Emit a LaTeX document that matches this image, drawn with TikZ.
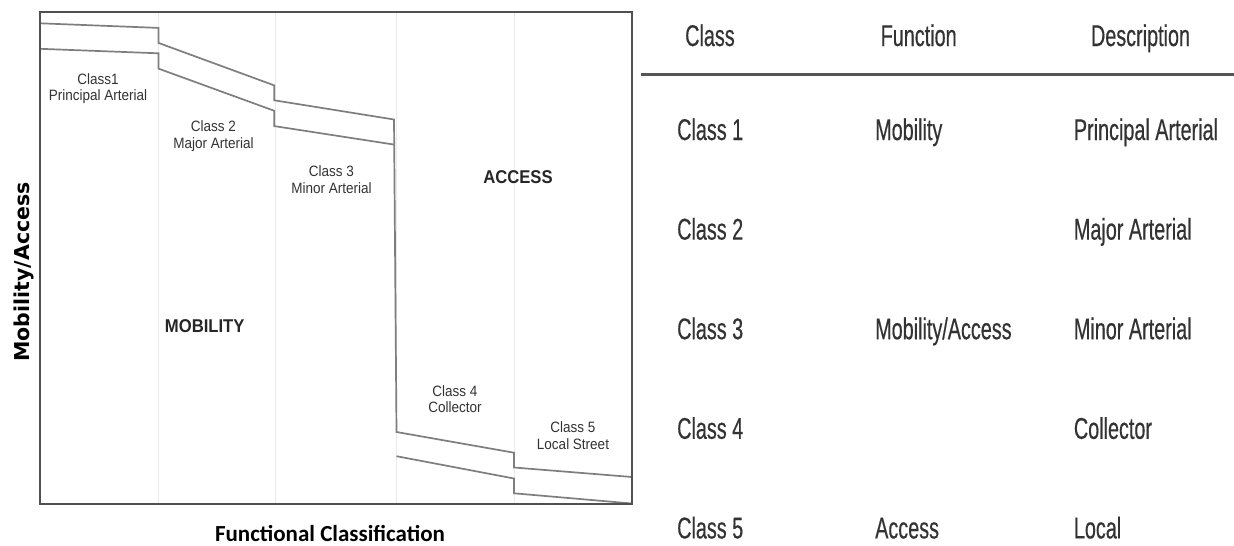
\documentclass[tikz,border=0pt]{standalone}
\usepackage{fontspec}
\newfontfamily\chartfont[FakeStretch=0.9]{Liberation Sans}
\newfontfamily\tabfont[FakeStretch=0.66,FakeBold=0.4]{Liberation Sans}
\newfontfamily\xaxisfont{Carlito}
\newfontfamily\yaxisfont{DejaVu Sans}
\definecolor{bandgray}{HTML}{7E7E7E}
\definecolor{boxgray}{HTML}{505050}
\definecolor{gridgray}{HTML}{EAEAEA}
\definecolor{textgray}{HTML}{333333}
\definecolor{rulegray}{HTML}{555555}
\begin{document}
\begin{tikzpicture}[x=1pt,y=-1pt,
  lbl/.style={anchor=base,inner sep=0pt,text=textgray,font=\chartfont\fontsize{15}{17}\selectfont},
  biglbl/.style={anchor=base,inner sep=0pt,text=black!85,font=\chartfont\bfseries\fontsize{18.5}{20}\selectfont},
  tabtxt/.style={anchor=base west,inner sep=0pt,text=textgray,font=\tabfont\fontsize{30}{32}\selectfont},
  band/.style={draw=bandgray,line width=1.7pt,line join=miter},
  gridline/.style={draw=gridgray,line width=0.8pt}]
\useasboundingbox (0,0) rectangle (1234,546);
\fill[white] (0,0) rectangle (1234,546);
% grid
\foreach \gx in {158.5,275.5,396.5,514}{\draw[gridline] (\gx,12) -- (\gx,503.5);}
% bands
\draw[band] (40,23.3) -- (158.4,27.9) -- (158.4,42.9) -- (274.3,85.4) -- (274.3,100.3) -- (394,119.5) -- (396.5,432) -- (514,452.7) -- (514,467.5) -- (632,477);
\draw[band] (40,48.8) -- (158.4,53.3) -- (158.4,68.6) -- (274.3,110.8) -- (274.3,126.1) -- (394.2,144.6);
\draw[band] (396.5,456.2) -- (514,478.5) -- (514,493.3) -- (632,503.5);
% frame
\draw[boxgray,line width=2pt] (40,12) rectangle (632,503.5);
% chart labels
\node[lbl] (c1a) at (98,84) {Class1};
\node[lbl] (c1b) at (98,100.7) {Principal Arterial};
\node[lbl] (c2a) at (213.5,131.7) {Class 2};
\node[lbl] (c2b) at (213.5,148.4) {Major Arterial};
\node[lbl] (c3a) at (331.5,176.5) {Class 3};
\node[lbl] (c3b) at (331.5,193.2) {Minor Arterial};
\node[lbl] (c4a) at (455,396) {Class 4};
\node[lbl] (c4b) at (455,412.7) {Collector};
\node[lbl] (c5a) at (573,432.7) {Class 5};
\node[lbl] (c5b) at (573,449.5) {Local Street};
\node[biglbl] (acc) at (518,183.3) {ACCESS};
\node[biglbl] (mob) at (204.7,332) {MOBILITY};
% axis titles
\node[anchor=base,inner sep=0pt,font=\xaxisfont\bfseries\fontsize{23}{25}\selectfont] (xt) at (330,541) {Functional Classification};
\node[anchor=base,inner sep=0pt,rotate=90,font=\yaxisfont\bfseries\fontsize{20.5}{22}\selectfont] (yt) at (29,272) {Mobility/Access};
% table
\node[tabtxt] (h1) at (685,46) {Class};
\node[tabtxt] (h2) at (880.5,46) {Function};
\node[tabtxt] (h3) at (1090.8,46) {Description};
\draw[rulegray,line width=2.6pt] (641,74.3) -- (1234,74.3);
\node[tabtxt] (r1a) at (677,140) {Class 1};
\node[tabtxt] (r1b) at (875,140) {Mobility};
\node[tabtxt] (r1c) at (1073.7,140) {Principal Arterial};
\node[tabtxt] (r2a) at (677,239.6) {Class 2};
\node[tabtxt] (r2c) at (1073.7,239.6) {Major Arterial};
\node[tabtxt] (r3a) at (677,339.2) {Class 3};
\node[tabtxt] (r3b) at (875,339.2) {Mobility/Access};
\node[tabtxt] (r3c) at (1073.7,339.2) {Minor Arterial};
\node[tabtxt] (r4a) at (677,438.8) {Class 4};
\node[tabtxt] (r4c) at (1073.7,438.8) {Collector};
\node[tabtxt] (r5a) at (677,538.4) {Class 5};
\node[tabtxt] (r5b) at (875,538.4) {Access};
\node[tabtxt] (r5c) at (1073.7,538.4) {Local};
\end{tikzpicture}
\end{document}
